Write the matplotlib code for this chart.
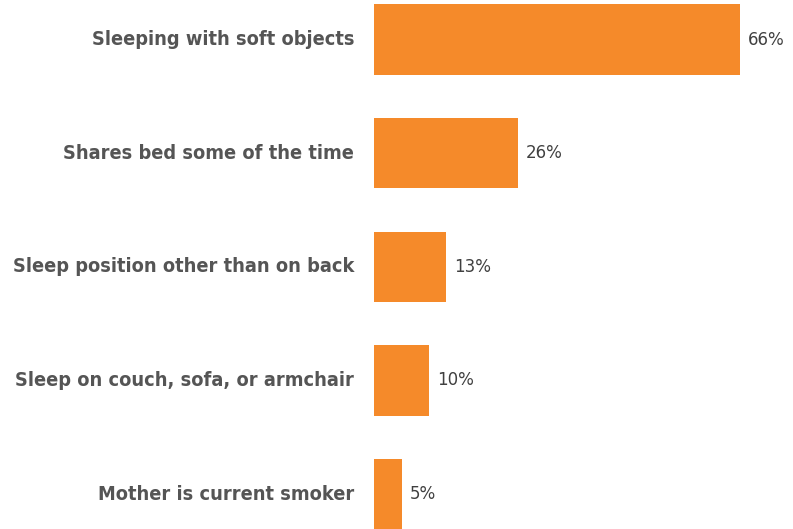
import matplotlib
matplotlib.use("Agg")
import matplotlib.pyplot as plt

categories = [
    "Sleeping with soft objects",
    "Shares bed some of the time",
    "Sleep position other than on back",
    "Sleep on couch, sofa, or armchair",
    "Mother is current smoker",
]
values = [66, 26, 13, 10, 5]

ORANGE = "#F58A2A"
LABEL = "#555555"
VALUE = "#404040"

fig = plt.figure(figsize=(7.93, 5.29), dpi=100)
ax = fig.add_axes([374 / 793, 0, 1 - 374 / 793, 1])

ypos = list(range(len(categories)))
ax.barh(ypos, values, height=0.62, color=ORANGE, edgecolor="none")
ax.set_xlim(0, 75.6)
ax.set_ylim(4.308, -0.348)
ax.axis("off")

for y, cat, v in zip(ypos, categories, values):
    ax.annotate(cat, xy=(0, y), xytext=(-20, 0), textcoords="offset pixels",
                ha="right", va="center", fontsize=14.3, fontweight="bold",
                fontstretch="condensed", color=LABEL, family="DejaVu Sans")
    ax.annotate(f"{v}%", xy=(v, y), xytext=(8, 0), textcoords="offset pixels",
                ha="left", va="center", fontsize=13.3,
                fontstretch="condensed", color=VALUE, family="DejaVu Sans")

fig.savefig("out.png", dpi=100, facecolor="white")
